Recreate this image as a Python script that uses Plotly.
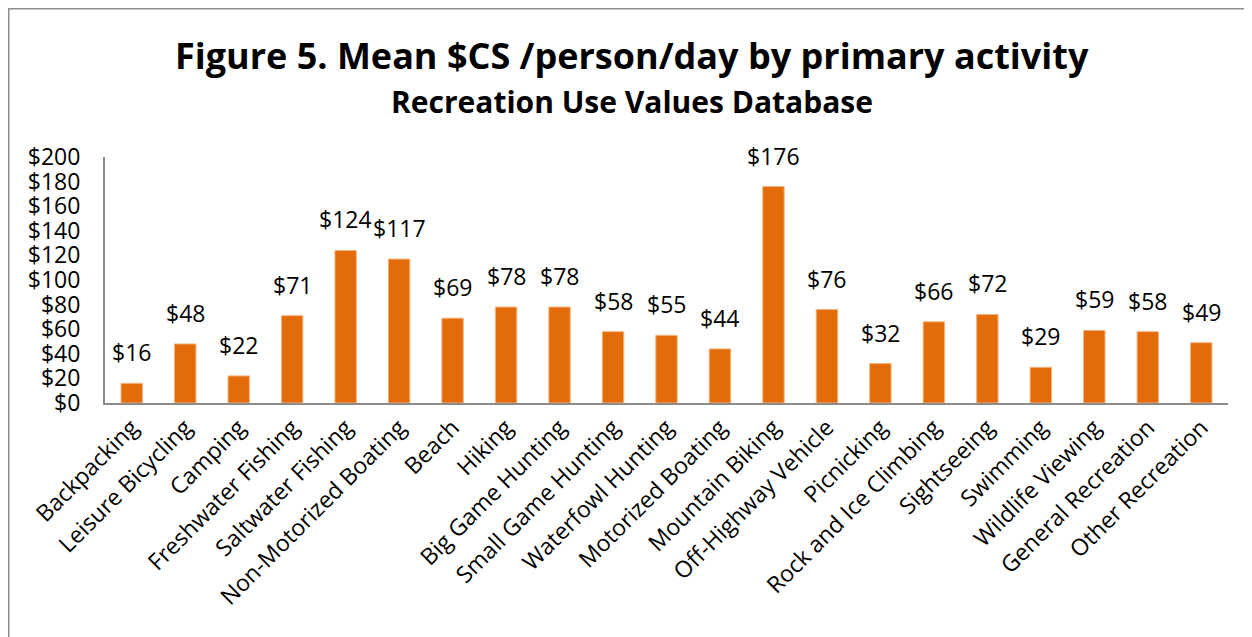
import plotly.graph_objects as go

categories = ["Backpacking", "Leisure Bicycling", "Camping", "Freshwater Fishing",
              "Saltwater Fishing", "Non-Motorized Boating", "Beach", "Hiking",
              "Big Game Hunting", "Small Game Hunting", "Waterfowl Hunting",
              "Motorized Boating", "Mountain Biking", "Off-Highway Vehicle",
              "Picnicking", "Rock and Ice Climbing", "Sightseeing", "Swimming",
              "Wildlife Viewing", "General Recreation", "Other Recreation"]
values = [16, 48, 22, 71, 124, 117, 69, 78, 78, 58, 55, 44, 176, 76, 32, 66, 72, 29, 59, 58, 49]
y_ticks = list(range(0, 201, 20))

FONT = "'Open Sans', Lato, sans-serif"
W, H = 1252, 637
# page body adds an 8px offset; margins compensate
L, R, T, B = 97, 32, 149, 242
pw, ph = W - L - R, H - T - B

fig = go.Figure(go.Bar(
    x=categories, y=values,
    marker=dict(color="#E36C0A", line=dict(color="#F5B27A", width=1)),
    hoverinfo="x+y",
))

annotations = [
    dict(text="<b>Figure 5. Mean $CS /person/day by primary activity</b>",
         xref="paper", yref="paper", x=(624 - L) / pw, y=(H - B - 47) / ph,
         xanchor="center", yanchor="middle", showarrow=False,
         font=dict(size=36, family=FONT)),
    dict(text="<b>Recreation Use Values Database</b>",
         xref="paper", yref="paper", x=(624 - L) / pw, y=(H - B - 94) / ph,
         xanchor="center", yanchor="middle", showarrow=False,
         font=dict(size=30, family=FONT)),
]
for c, v in zip(categories, values):
    annotations.append(dict(text=f"${v}", x=c, y=v, xref="x", yref="y",
                            yanchor="bottom", xanchor="center", yshift=13,
                            showarrow=False, font=dict(size=23, family=FONT)))

fig.update_layout(
    width=W, height=H,
    margin=dict(l=L, r=R, t=T, b=B, autoexpand=False),
    paper_bgcolor="white", plot_bgcolor="white",
    bargap=0.6, showlegend=False,
    font=dict(family=FONT, color="#000000"),
    annotations=annotations,
    shapes=[dict(type="rect", xref="paper", yref="paper",
                 x0=(0.75 - L) / pw, x1=(1270 - L) / pw,
                 y0=(H - B - 660) / ph, y1=(H - B - 0.75) / ph,
                 line=dict(color="#8C8C8C", width=1.5), fillcolor="rgba(0,0,0,0)",
                 layer="below")],
)
fig.update_xaxes(tickangle=-45, tickfont=dict(size=23, family=FONT),
                 showline=True, linecolor="#8C8C8C", linewidth=2,
                 ticks="", showgrid=False, automargin=False)
fig.update_yaxes(range=[0, 200], tickvals=y_ticks, ticktext=[f"${v}" for v in y_ticks],
                 tickfont=dict(size=23, family=FONT),
                 showline=True, linecolor="#8C8C8C", linewidth=2,
                 ticks="", showgrid=False, zeroline=False, ticklabelstandoff=18,
                 automargin=False)

fig.write_html("out.html")
